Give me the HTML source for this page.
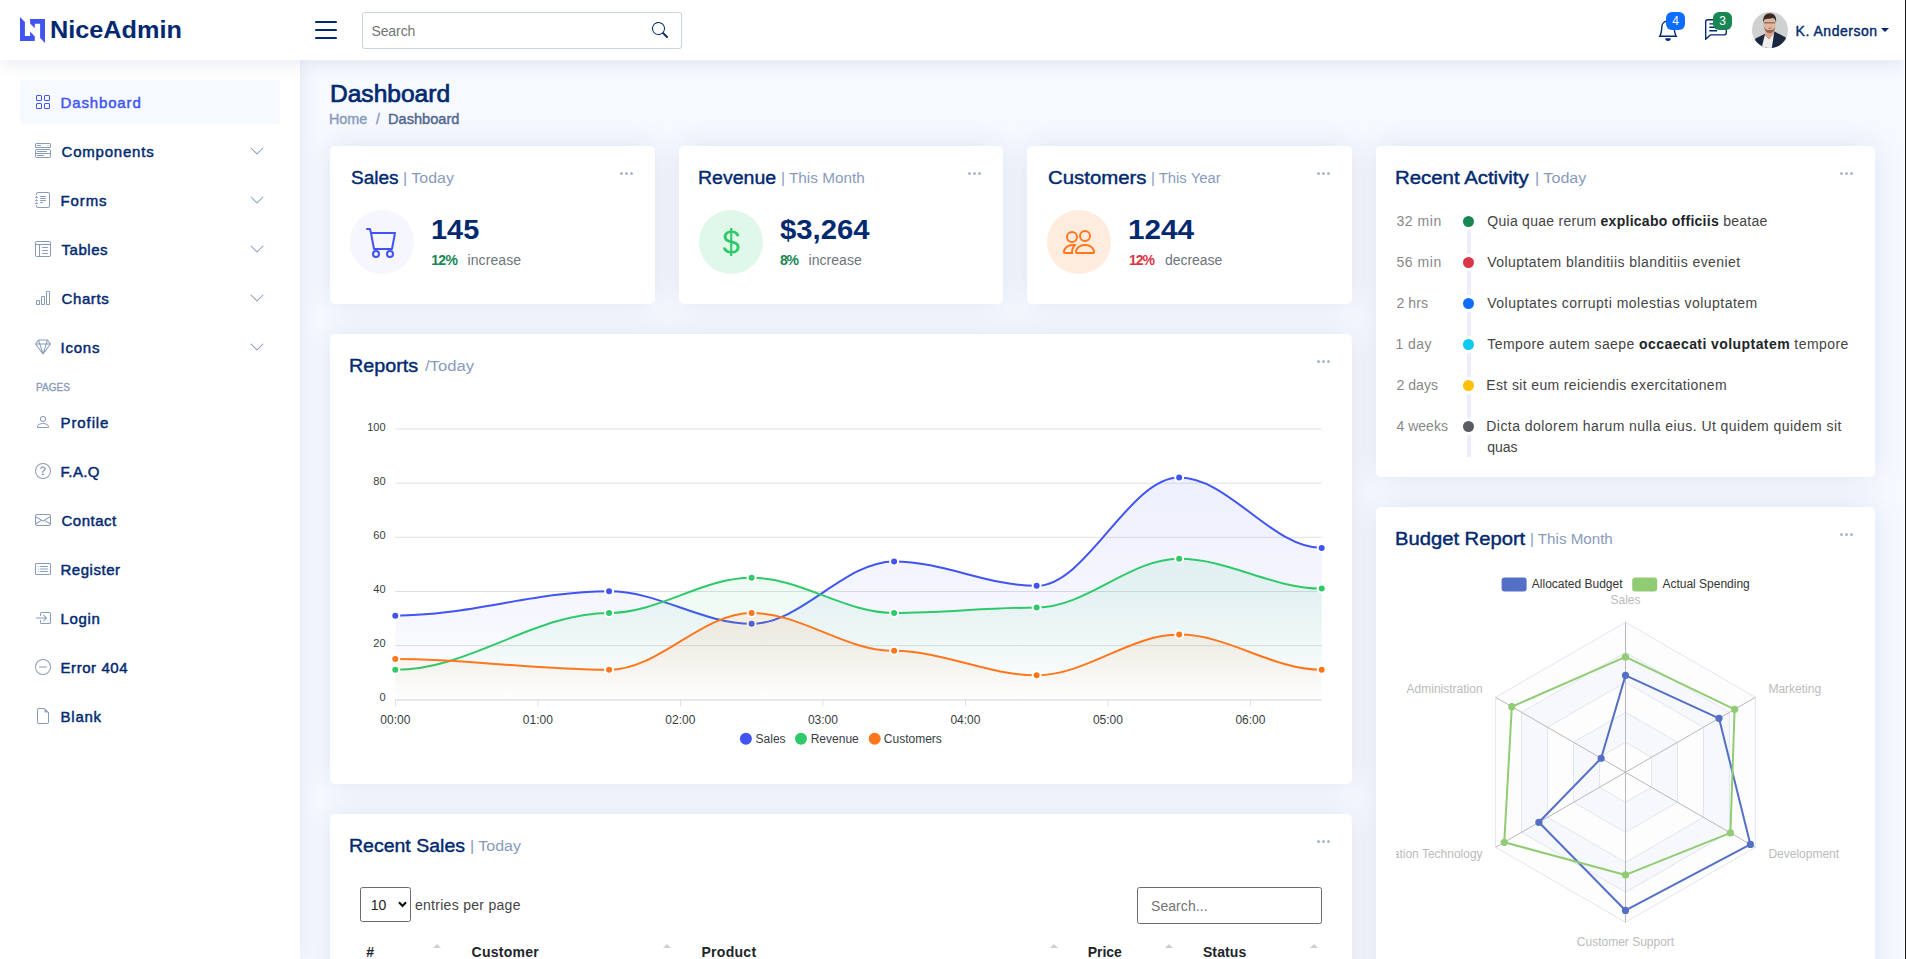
<!DOCTYPE html>
<html lang="en">
<head>
<meta charset="utf-8">
<title>Dashboard - NiceAdmin</title>
<style>
*{box-sizing:border-box}
html,body{margin:0;padding:0}
body{width:1906px;height:959px;overflow:hidden;position:relative;background:#f6f9ff;color:#444;font-family:"Liberation Sans",sans-serif;font-size:16px;line-height:1.5}
a{color:inherit;text-decoration:none}
ul,ol{list-style:none;margin:0;padding:0}
h1,h5,h6,p{margin:0}
.edge{position:absolute;left:1904px;top:0;width:2px;height:959px;background:linear-gradient(90deg,#fdfdfd 0,#fdfdfd 45%,#1b1b1b 45%,#1b1b1b 100%);z-index:2000}
.t{position:absolute;white-space:nowrap;display:block}

/* ---------- header ---------- */
.header{position:absolute;left:0;top:0;width:1905px;height:60px;background:#fff;box-shadow:0 2px 20px rgba(1,41,112,.1);z-index:997}
.logo-mark{position:absolute;left:0;top:0}
.logo-text{left:51px;top:13.9px;font-size:24.600px;line-height:31px;font-weight:700;color:#012970}
.burger{position:absolute;left:315px;top:20px;width:22px;height:20px}
.burger i{position:absolute;left:0;width:22px;height:2px;background:#012970;border-radius:1px}
.search{position:absolute;left:362px;top:12px;width:320px;height:37px;border:1px solid rgba(1,41,112,.2);border-radius:3px;background:#fff}
.search .t{left:8px;top:8px;font-size:14px;line-height:21px;color:#757575}
.search svg{position:absolute}
.nav-ico{position:absolute;color:#012970}
.badge{position:absolute;top:12px;height:18px;width:19px;border-radius:6px;color:#fff;font-size:12px;line-height:18px;text-align:center}
.avatar{position:absolute;left:1752px;top:12px;width:36px;height:36px;border-radius:50%;overflow:hidden}
.uname{left:1796px;top:21px;font-size:14px;line-height:21px;font-weight:400;color:#012970;-webkit-text-stroke:.4px currentColor}
.caret{position:absolute;left:1881px;top:28px;width:0;height:0;border-left:4px solid transparent;border-right:4px solid transparent;border-top:4.5px solid #012970}

/* ---------- sidebar ---------- */
.sidebar{position:absolute;left:0;top:60px;width:300px;height:899px;background:#fff;box-shadow:0 0 20px rgba(1,41,112,.1);z-index:996}
.nav-link{position:absolute;left:20px;width:260px;height:44px;border-radius:4px;font-size:15px;font-weight:400;color:#012970;-webkit-text-stroke:.45px currentColor}
.nav-link.active{background:#f6f9ff;color:#4154f1}
.nav-link svg.ic{position:absolute;left:15px;top:14px;color:#899bbd}
.nav-link.active svg.ic{color:#4154f1}
.nav-link svg.chev{position:absolute;left:229px;top:14px;color:#899bbd}
.nav-link .t{left:41px;top:11.7px;line-height:22px}
.nav-heading{left:35px;top:318.6px;font-size:11px;line-height:16px;text-transform:uppercase;color:#899bbd;font-weight:400;-webkit-text-stroke:.35px currentColor}

/* ---------- main ---------- */
.pagetitle h1{left:330px;top:79.8px;font-size:23.300px;line-height:29px;font-weight:400;color:#012970;-webkit-text-stroke:.7px currentColor}
.crumb{top:109px;font-size:14px;line-height:21px;font-weight:400;color:#899bbd;-webkit-text-stroke:.4px currentColor}
.card{position:absolute;background:#fff;border-radius:5px;box-shadow:0 0 30px rgba(1,41,112,.1)}
.ct{top:20.7px;font-size:18px;line-height:22px;font-weight:400;color:#012970;-webkit-text-stroke:.4px #012970}
.cs{top:22px;color:#899bbd;font-size:14px;line-height:21px;font-weight:400}
.dots{position:absolute;right:21.3px;top:25.7px;width:14px;height:4px}
.dots i{position:absolute;top:0;width:3.4px;height:3.4px;border-radius:50%;background:#aab7cf}
.card-icon{position:absolute;left:20px;top:64px;width:64px;height:64px;border-radius:50%}
.card-icon svg{position:absolute;left:16px;top:16px}
.info .num{left:101px;top:67px;font-size:27px;line-height:34px;font-weight:700;color:#012970}
.info .pct{left:101px;top:104.200px;font-size:14px;line-height:21px;font-weight:700}
.info .lbl{top:104.200px;font-size:14px;line-height:21px;color:#6c757d}

/* activity */
.act{font-size:14px;line-height:21px}
.act .lab{left:20px;color:#888}
.act .txt{left:111px;color:#444}
.act .txt b{font-weight:700;color:#212529}
.act .dot{position:absolute;left:86.8px;width:11.6px;height:11.6px;border-radius:50%;z-index:1;box-shadow:0 0 0 3px #fff}
.act .vline{position:absolute;left:91px;width:4px;background:#eceefe}

/* datatable */
.dsel{position:absolute;left:30px;top:73px;width:51px;height:35px;border:1px solid #6b6b6b;border-radius:2.500px;background:#fff}
.dsel .t{left:11px;top:7px;font-size:14px;line-height:21px;color:#222}
.dsel svg{position:absolute;left:37px;top:13px}
.dinp{position:absolute;left:807px;top:73px;width:185px;height:37px;border:1px solid #6b6b6b;border-radius:2.500px;background:#fff}
.dinp .t{left:13px;top:8px;font-size:14px;line-height:21px;color:#757575}
.dlbl{left:85px;top:80.900px;font-size:14px;line-height:21px;color:#444}
.th{top:128px;font-size:14px;line-height:21px;font-weight:700;color:#212529}
.sort{position:absolute;top:130px;width:0;height:0;border-left:4px solid transparent;border-right:4px solid transparent;border-bottom:4px solid #cfcfcf}
</style>
</head>
<body>
<div class="edge"></div>

<header class="header">
<svg class="logo-mark" width="60" height="60" viewBox="0 0 60 60"><path fill="#4154f1" d="M20 17.1 24.9 21.9V36H30.1V31.500L34.800 36.400V40.900H20Z"/><path fill="#4154f1" d="M30.100 18.900H45V43L40.100 37.900V23.800H34.800V28.300L30.100 23.400Z"/></svg>
<span id="logo" class="t logo-text" style="transform:scaleX(1.0266);transform-origin:0 0;left:50.47px">NiceAdmin</span>
<div class="burger"><i style="top:.6px"></i><i style="top:9px"></i><i style="top:17.2px"></i></div>
<div class="search"><span id="srch" class="t " style="letter-spacing:-0.074px;left:8.40px">Search</span><svg style="left:289px;top:9px" width="16" height="16" viewBox="0 0 16 16" fill="#012970"><path d="M11.742 10.344a6.5 6.5 0 1 0-1.397 1.398h-.001c.03.04.062.078.098.115l3.85 3.85a1 1 0 0 0 1.415-1.414l-3.85-3.85a1.007 1.007 0 0 0-.115-.1zM12 6.500a5.500 5.500 0 1 1-11 0 5.500 5.500 0 0 1 11 0z"/></svg></div>
<svg class="nav-ico" style="left:1657px;top:19px" width="22" height="22" viewBox="0 0 16 16" fill="currentColor"><path d="M8 16a2 2 0 0 0 2-2H6a2 2 0 0 0 2 2zM8 1.918l-.797.161A4.002 4.002 0 0 0 4 6c0 .628-.134 2.197-.459 3.742-.16.767-.376 1.566-.663 2.258h10.244c-.287-.692-.502-1.49-.663-2.258C12.134 8.197 12 6.628 12 6a4.002 4.002 0 0 0-3.203-3.92L8 1.917zM14.22 12c.223.447.481.801.78 1H1c.299-.199.557-.553.78-1C2.68 10.2 3 6.88 3 6c0-2.42 1.72-4.44 4.005-4.901a1 1 0 1 1 1.99 0A5.002 5.002 0 0 1 13 6c0 .88.32 4.2 1.22 6z"/></svg>
<span class="badge" style="left:1666px;background:#0d6efd">4</span>
<svg class="nav-ico" style="left:1704.600px;top:19px" width="22" height="22" viewBox="0 0 16 16" fill="currentColor"><path d="M14 1a1 1 0 0 1 1 1v8a1 1 0 0 1-1 1H4.414A2 2 0 0 0 3 11.586l-2 2V2a1 1 0 0 1 1-1h12zM2 0a2 2 0 0 0-2 2v12.793a.5.5 0 0 0 .854.353l2.853-2.853A1 1 0 0 1 4.414 12H14a2 2 0 0 0 2-2V2a2 2 0 0 0-2-2H2z"/><path d="M3 3.5a.5.5 0 0 1 .5-.5h9a.5.5 0 0 1 0 1h-9a.5.5 0 0 1-.5-.5zM3 6a.5.5 0 0 1 .5-.5h9a.5.5 0 0 1 0 1h-9A.5.5 0 0 1 3 6zm0 2.500a.5.5 0 0 1 .5-.5h5a.5.5 0 0 1 0 1h-5a.5.5 0 0 1-.5-.5z"/></svg>
<span class="badge" style="left:1713px;background:#198754">3</span>
<svg class="avatar" width="36" height="36" viewBox="0 0 36 36"><rect width="36" height="36" fill="#cfd0d0"/><path d="M3.500 26.500 12.500 22 15 24 22 19.200 33.800 25.500 36 36H0Z" fill="#1c2740"/><path d="M12.800 23 17 27 22.200 20.500 19.800 36H9.600Z" fill="#efefef"/><path d="M14 17H22L22.200 21 17 27.500 13 23.500Z" fill="#d9a68b"/><ellipse cx="17.600" cy="12.800" rx="6" ry="8" fill="#e0b59b"/><path d="M11.200 11C10.500 4 14 1.200 18 1.300 22.500 1.400 25 5 24 11 23.500 8 22.500 6.500 21 6 18 7 14 6.500 12.800 7.500 12 8.500 11.500 9.500 11.200 11Z" fill="#3b2a22"/><path d="M12 14.500C12.500 19 15 21 17.600 21 20.500 21 23 19 23.300 14.500 22.500 17.500 20.500 18 17.600 18 15 18 13 17.500 12 14.500Z" fill="#7a5543" opacity=".8"/><rect x="12" y="10" width="11" height="1.500" rx=".6" fill="#4a4a4c" opacity=".6"/><ellipse cx="17.900" cy="16.300" rx="1.600" ry=".7" fill="#e0605a"/></svg>

<span id="uname" class="t uname" style="letter-spacing:0.514px;left:1795.60px">K. Anderson</span>
<i class="caret"></i>
</header>
<aside class="sidebar">
<a class="nav-link active" style="top:20px"><svg class="ic" width="16" height="16" viewBox="0 0 16 16" fill="currentColor"><path d="M1 2.5A1.5 1.5 0 0 1 2.5 1h3A1.5 1.5 0 0 1 7 2.5v3A1.5 1.5 0 0 1 5.5 7h-3A1.5 1.5 0 0 1 1 5.5v-3zM2.5 2a.5.5 0 0 0-.5.5v3a.5.5 0 0 0 .5.5h3a.5.5 0 0 0 .5-.5v-3a.5.5 0 0 0-.5-.5h-3zm6.5.5A1.5 1.5 0 0 1 10.5 1h3A1.5 1.5 0 0 1 15 2.5v3A1.5 1.5 0 0 1 13.5 7h-3A1.5 1.5 0 0 1 9 5.5v-3zm1.5-.5a.5.5 0 0 0-.5.5v3a.5.5 0 0 0 .5.5h3a.5.5 0 0 0 .5-.5v-3a.5.5 0 0 0-.5-.5h-3zM1 10.5A1.5 1.5 0 0 1 2.5 9h3A1.5 1.5 0 0 1 7 10.5v3A1.5 1.5 0 0 1 5.5 15h-3A1.5 1.5 0 0 1 1 13.5v-3zm1.5-.5a.5.5 0 0 0-.5.5v3a.5.5 0 0 0 .5.5h3a.5.5 0 0 0 .5-.5v-3a.5.5 0 0 0-.5-.5h-3zm6.5.5A1.5 1.5 0 0 1 10.5 9h3a1.5 1.5 0 0 1 1.5 1.5v3a1.5 1.5 0 0 1-1.5 1.5h-3A1.5 1.5 0 0 1 9 13.5v-3zm1.5-.5a.5.5 0 0 0-.5.5v3a.5.5 0 0 0 .5.5h3a.5.5 0 0 0 .5-.5v-3a.5.5 0 0 0-.5-.5h-3z"/></svg><span id="sb0" class="t " style="letter-spacing:0.858px;left:40.50px">Dashboard</span></a>
<a class="nav-link" style="top:69px"><svg class="ic" width="16" height="16" viewBox="0 0 16 16" fill="currentColor"><path d="M0 1.5A1.5 1.5 0 0 1 1.5 0h13A1.5 1.5 0 0 1 16 1.5v2A1.5 1.5 0 0 1 14.5 5h-13A1.5 1.5 0 0 1 0 3.5v-2zM1.5 1a.5.5 0 0 0-.5.5v2a.5.5 0 0 0 .5.5h13a.5.5 0 0 0 .5-.5v-2a.5.5 0 0 0-.5-.5h-13z"/><path d="M2 2.5a.5.5 0 0 1 .5-.5h3a.5.5 0 0 1 0 1h-3a.5.5 0 0 1-.5-.5zm10.823.323-.396-.396A.25.25 0 0 1 12.604 2h.792a.25.25 0 0 1 .177.427l-.396.396a.25.25 0 0 1-.354 0zM0 8a2 2 0 0 1 2-2h12a2 2 0 0 1 2 2v5a2 2 0 0 1-2 2H2a2 2 0 0 1-2-2V8zm1 3v2a1 1 0 0 0 1 1h12a1 1 0 0 0 1-1v-2H1zm14-1V8a1 1 0 0 0-1-1H2a1 1 0 0 0-1 1v2h14zM2 8.5a.5.5 0 0 1 .5-.5h9a.5.5 0 0 1 0 1h-9a.5.5 0 0 1-.5-.5zm0 4a.5.5 0 0 1 .5-.5h6a.5.5 0 0 1 0 1h-6a.5.5 0 0 1-.5-.5z"/></svg><span id="sb1" class="t " style="letter-spacing:0.795px;left:41.50px">Components</span><svg class="chev" width="16" height="16" viewBox="0 0 16 16" fill="currentColor"><path fill-rule="evenodd" d="M1.646 4.646a.5.5 0 0 1 .708 0L8 10.293l5.646-5.647a.5.5 0 0 1 .708.708l-6 6a.5.5 0 0 1-.708 0l-6-6a.5.5 0 0 1 0-.708z"/></svg></a>
<a class="nav-link" style="top:118px"><svg class="ic" width="16" height="16" viewBox="0 0 16 16" fill="currentColor"><path d="M5 10.5a.5.5 0 0 1 .5-.5h2a.5.5 0 0 1 0 1h-2a.5.5 0 0 1-.5-.5zm0-2a.5.5 0 0 1 .5-.5h5a.5.5 0 0 1 0 1h-5a.5.5 0 0 1-.5-.5zm0-2a.5.5 0 0 1 .5-.5h5a.5.5 0 0 1 0 1h-5a.5.5 0 0 1-.5-.5zm0-2a.5.5 0 0 1 .5-.5h5a.5.5 0 0 1 0 1h-5a.5.5 0 0 1-.5-.5z"/><path d="M3 0h10a2 2 0 0 1 2 2v12a2 2 0 0 1-2 2H3a2 2 0 0 1-2-2v-1h1v1a1 1 0 0 0 1 1h10a1 1 0 0 0 1-1V2a1 1 0 0 0-1-1H3a1 1 0 0 0-1 1v1H1V2a2 2 0 0 1 2-2z"/><path d="M1 5v-.5a.5.5 0 0 1 1 0V5h.5a.5.5 0 0 1 0 1h-2a.5.5 0 0 1 0-1H1zm0 3v-.5a.5.5 0 0 1 1 0V8h.5a.5.5 0 0 1 0 1h-2a.5.5 0 0 1 0-1H1zm0 3v-.5a.5.5 0 0 1 1 0v.5h.5a.5.5 0 0 1 0 1h-2a.5.5 0 0 1 0-1H1z"/></svg><span id="sb2" class="t " style="letter-spacing:0.876px;left:40.50px">Forms</span><svg class="chev" width="16" height="16" viewBox="0 0 16 16" fill="currentColor"><path fill-rule="evenodd" d="M1.646 4.646a.5.5 0 0 1 .708 0L8 10.293l5.646-5.647a.5.5 0 0 1 .708.708l-6 6a.5.5 0 0 1-.708 0l-6-6a.5.5 0 0 1 0-.708z"/></svg></a>
<a class="nav-link" style="top:167px"><svg class="ic" width="16" height="16" viewBox="0 0 16 16" fill="currentColor"><path d="M13 6.5a.5.5 0 0 0-.5-.5h-5a.5.5 0 0 0 0 1h5a.5.5 0 0 0 .5-.5zm0 3a.5.5 0 0 0-.5-.5h-5a.5.5 0 0 0 0 1h5a.5.5 0 0 0 .5-.5zm-.5 2.500a.5.5 0 0 1 0 1h-5a.5.5 0 0 1 0-1h5z"/><path d="M14 0a2 2 0 0 1 2 2v12a2 2 0 0 1-2 2H2a2 2 0 0 1-2-2V2a2 2 0 0 1 2-2h12zM2 1a1 1 0 0 0-1 1v1h14V2a1 1 0 0 0-1-1H2zM1 4v10a1 1 0 0 0 1 1h2V4H1zm4 0v11h9a1 1 0 0 0 1-1V4H5z"/></svg><span id="sb3" class="t " style="letter-spacing:0.548px;left:41.50px">Tables</span><svg class="chev" width="16" height="16" viewBox="0 0 16 16" fill="currentColor"><path fill-rule="evenodd" d="M1.646 4.646a.5.5 0 0 1 .708 0L8 10.293l5.646-5.647a.5.5 0 0 1 .708.708l-6 6a.5.5 0 0 1-.708 0l-6-6a.5.5 0 0 1 0-.708z"/></svg></a>
<a class="nav-link" style="top:216px"><svg class="ic" width="16" height="16" viewBox="0 0 16 16" fill="currentColor"><path d="M4 11H2v3h2v-3zm5-4H7v7h2V7zm5-5v12h-2V2h2zm-2-1a1 1 0 0 0-1 1v12a1 1 0 0 0 1 1h2a1 1 0 0 0 1-1V2a1 1 0 0 0-1-1h-2zM6 7a1 1 0 0 1 1-1h2a1 1 0 0 1 1 1v7a1 1 0 0 1-1 1H7a1 1 0 0 1-1-1V7zm-5 4a1 1 0 0 1 1-1h2a1 1 0 0 1 1 1v3a1 1 0 0 1-1 1H2a1 1 0 0 1-1-1v-3z"/></svg><span id="sb4" class="t " style="letter-spacing:0.604px;left:41.50px">Charts</span><svg class="chev" width="16" height="16" viewBox="0 0 16 16" fill="currentColor"><path fill-rule="evenodd" d="M1.646 4.646a.5.5 0 0 1 .708 0L8 10.293l5.646-5.647a.5.5 0 0 1 .708.708l-6 6a.5.5 0 0 1-.708 0l-6-6a.5.5 0 0 1 0-.708z"/></svg></a>
<a class="nav-link" style="top:265px"><svg class="ic" width="16" height="16" viewBox="0 0 16 16" fill="currentColor"><path d="M3.1.7a.5.5 0 0 1 .4-.2h9a.5.5 0 0 1 .4.2l2.976 3.974c.149.185.156.45.01.644L8.4 15.3a.5.5 0 0 1-.8 0L.1 5.3a.5.5 0 0 1 0-.6l3-4zm11.386 3.785-1.806-2.41-.776 2.413 2.582-.003zm-3.633.004.961-2.989H4.186l.963 2.995 5.704-.006zM5.47 5.495 8 13.366l2.532-7.876-5.062.005zm-1.371-.999-.78-2.422-1.818 2.425 2.598-.003zM1.499 5.5l5.113 6.817-2.192-6.82L1.5 5.5zm7.889 6.817 5.123-6.83-2.928.002-2.195 6.828z"/></svg><span id="sb5" class="t " style="letter-spacing:0.762px;left:40.50px">Icons</span><svg class="chev" width="16" height="16" viewBox="0 0 16 16" fill="currentColor"><path fill-rule="evenodd" d="M1.646 4.646a.5.5 0 0 1 .708 0L8 10.293l5.646-5.647a.5.5 0 0 1 .708.708l-6 6a.5.5 0 0 1-.708 0l-6-6a.5.5 0 0 1 0-.708z"/></svg></a>
<span id="pages" class="t nav-heading" style="transform:scaleX(0.9143);transform-origin:0 0;left:35.50px">Pages</span>
<a class="nav-link" style="top:340px"><svg class="ic" width="16" height="16" viewBox="0 0 16 16" fill="currentColor"><path d="M8 8a3 3 0 1 0 0-6 3 3 0 0 0 0 6zm2-3a2 2 0 1 1-4 0 2 2 0 0 1 4 0zm4 8c0 1-1 1-1 1H3s-1 0-1-1 1-4 6-4 6 3 6 4zm-1-.004c-.001-.246-.154-.986-.832-1.664C11.516 10.68 10.289 10 8 10c-2.29 0-3.516.68-4.168 1.332-.678.678-.83 1.418-.832 1.664h10z"/></svg><span id="pg0" class="t " style="letter-spacing:0.904px;left:40.50px">Profile</span></a>
<a class="nav-link" style="top:389px"><svg class="ic" width="16" height="16" viewBox="0 0 16 16" fill="currentColor"><path d="M8 15A7 7 0 1 1 8 1a7 7 0 0 1 0 14zm0 1A8 8 0 1 0 8 0a8 8 0 0 0 0 16z"/><path d="M5.255 5.786a.237.237 0 0 0 .241.247h.825c.138 0 .248-.113.266-.25.09-.656.54-1.134 1.342-1.134.686 0 1.314.343 1.314 1.168 0 .635-.374.927-.965 1.371-.673.489-1.206 1.06-1.168 1.987l.003.217a.25.25 0 0 0 .25.246h.811a.25.25 0 0 0 .25-.25v-.105c0-.718.273-.927 1.01-1.486.609-.463 1.244-.977 1.244-2.056 0-1.511-1.276-2.241-2.673-2.241-1.267 0-2.655.59-2.75 2.286zm1.557 5.763c0 .533.425.927 1.01.927.609 0 1.028-.394 1.028-.927 0-.552-.42-.94-1.029-.94-.584 0-1.009.388-1.009.94z"/></svg><span id="pg1" class="t " style="letter-spacing:0.365px;left:40.50px">F.A.Q</span></a>
<a class="nav-link" style="top:438px"><svg class="ic" width="16" height="16" viewBox="0 0 16 16" fill="currentColor"><path d="M0 4a2 2 0 0 1 2-2h12a2 2 0 0 1 2 2v8a2 2 0 0 1-2 2H2a2 2 0 0 1-2-2V4Zm2-1a1 1 0 0 0-1 1v.217l7 4.2 7-4.2V4a1 1 0 0 0-1-1H2Zm13 2.383-4.708 2.825L15 11.105V5.383Zm-.034 6.876-5.64-3.471L8 9.583l-1.326-.795-5.64 3.47A1 1 0 0 0 2 13h12a1 1 0 0 0 .966-.741ZM1 11.105l4.708-2.897L1 5.383v5.722Z"/></svg><span id="pg2" class="t " style="letter-spacing:0.496px;left:41.50px">Contact</span></a>
<a class="nav-link" style="top:487px"><svg class="ic" width="16" height="16" viewBox="0 0 16 16" fill="currentColor"><path d="M14.5 3a.5.5 0 0 1 .5.5v9a.5.5 0 0 1-.5.5h-13a.5.5 0 0 1-.5-.5v-9a.5.5 0 0 1 .5-.5h13zm-13-1A1.5 1.5 0 0 0 0 3.5v9A1.5 1.5 0 0 0 1.5 14h13a1.5 1.5 0 0 0 1.5-1.5v-9A1.5 1.5 0 0 0 14.5 2h-13z"/><path d="M5 8a.5.5 0 0 1 .5-.5h7a.5.5 0 0 1 0 1h-7A.5.5 0 0 1 5 8zm0-2.5a.5.5 0 0 1 .5-.5h7a.5.5 0 0 1 0 1h-7a.5.5 0 0 1-.5-.5zm0 5a.5.5 0 0 1 .5-.5h7a.5.5 0 0 1 0 1h-7a.5.5 0 0 1-.5-.5zm-1-5a.5.5 0 1 1-1 0 .5.5 0 0 1 1 0zM4 8a.5.5 0 1 1-1 0 .5.5 0 0 1 1 0zm0 2.5a.5.5 0 1 1-1 0 .5.5 0 0 1 1 0z"/></svg><span id="pg3" class="t " style="letter-spacing:0.520px;left:40.50px">Register</span></a>
<a class="nav-link" style="top:536px"><svg class="ic" width="16" height="16" viewBox="0 0 16 16" fill="currentColor"><path fill-rule="evenodd" d="M6 3.5a.5.5 0 0 1 .5-.5h8a.5.5 0 0 1 .5.5v9a.5.5 0 0 1-.5.5h-8a.5.5 0 0 1-.5-.5v-2a.5.5 0 0 0-1 0v2A1.5 1.5 0 0 0 6.5 14h8a1.5 1.5 0 0 0 1.500-1.5v-9A1.5 1.5 0 0 0 14.5 2h-8A1.5 1.5 0 0 0 5 3.5v2a.5.5 0 0 0 1 0v-2z"/><path fill-rule="evenodd" d="M11.854 8.354a.5.5 0 0 0 0-.708l-3-3a.5.5 0 1 0-.708.708L10.293 7.500H1.5a.5.5 0 0 0 0 1h8.793l-2.147 2.146a.5.5 0 0 0 .708.708l3-3z"/></svg><span id="pg4" class="t " style="letter-spacing:0.685px;left:40.50px">Login</span></a>
<a class="nav-link" style="top:585px"><svg class="ic" width="16" height="16" viewBox="0 0 16 16" fill="currentColor"><path d="M8 15A7 7 0 1 1 8 1a7 7 0 0 1 0 14zm0 1A8 8 0 1 0 8 0a8 8 0 0 0 0 16z"/><path d="M4 8a.5.5 0 0 1 .5-.5h7a.5.5 0 0 1 0 1h-7A.5.5 0 0 1 4 8z"/></svg><span id="pg5" class="t " style="letter-spacing:0.564px;left:40.50px">Error 404</span></a>
<a class="nav-link" style="top:634px"><svg class="ic" width="16" height="16" viewBox="0 0 16 16" fill="currentColor"><path d="M14 4.5V14a2 2 0 0 1-2 2H4a2 2 0 0 1-2-2V2a2 2 0 0 1 2-2h5.5L14 4.5zm-3 0A1.5 1.5 0 0 1 9.5 3V1H4a1 1 0 0 0-1 1v12a1 1 0 0 0 1 1h8a1 1 0 0 0 1-1V4.500h-2z"/></svg><span id="pg6" class="t " style="letter-spacing:0.770px;left:40.50px">Blank</span></a>
</aside>
<main>
<div class="pagetitle"><h1 id="ptitle" class="t" style="transform:scaleX(1.0534);transform-origin:0 0;left:330.45px">Dashboard</h1>
<span id="cr1" class="t crumb" style="left:330px;transform:scaleX(1.0258);transform-origin:0 0;left:329.47px">Home</span>
<span id="cr2" class="t crumb" style="left:376px;left:376.00px">/</span>
<span id="cr3" class="t crumb" style="left:389px;color:#51678f;transform:scaleX(1.0419);transform-origin:0 0;left:387.96px">Dashboard</span>
</div>
<section class="card info" style="left:330px;top:146px;width:325px;height:158px">
<span id="c0t" class="t ct" style="left:20px;transform:scaleX(1.0572);transform-origin:0 0;left:20.60px">Sales</span><span id="c0s" class="t cs" style="left:74.0px;transform:scaleX(1.1416);transform-origin:0 0;left:72.86px">| Today</span><div class="dots"><i style="left:0"></i><i style="left:5.2px"></i><i style="left:10.4px"></i></div>
<div class="card-icon" style="background:#f6f6fe"><svg width="32" height="32" viewBox="0 0 16 16" fill="#4154f1"><path d="M0 1.5A.5.5 0 0 1 .5 1H2a.5.5 0 0 1 .485.379L2.89 3H14.5a.5.5 0 0 1 .491.592l-1.5 8A.5.5 0 0 1 13 12H4a.5.5 0 0 1-.491-.408L2.01 3.607 1.61 2H.5a.5.5 0 0 1-.5-.5zM3.102 4l1.313 7h8.17l1.313-7H3.102zM5 12a2 2 0 1 0 0 4 2 2 0 0 0 0-4zm7 0a2 2 0 1 0 0 4 2 2 0 0 0 0-4zm-7 1a1 1 0 1 1 0 2 1 1 0 0 1 0-2zm7 0a1 1 0 1 1 0 2 1 1 0 0 1 0-2z"/></svg></div>
<span id="c0n" class="t num" style="transform:scaleX(1.0697);transform-origin:0 0;left:101.23px">145</span><span id="c0p" class="t pct" style="color:#198754;letter-spacing:-0.686px;left:101.20px">12%</span><span id="c0l" class="t lbl" style="left:137.5px;letter-spacing:0.096px;left:137.50px">increase</span>
</section>
<section class="card info" style="left:679px;top:146px;width:324px;height:158px">
<span id="c1t" class="t ct" style="left:20px;transform:scaleX(1.0839);transform-origin:0 0;left:19.42px">Revenue</span><span id="c1s" class="t cs" style="left:103.5px;transform:scaleX(1.0935);transform-origin:0 0;left:102.41px">| This Month</span><div class="dots"><i style="left:0"></i><i style="left:5.2px"></i><i style="left:10.4px"></i></div>
<div class="card-icon" style="background:#e0f8e9"><svg width="32" height="32" viewBox="0 0 16 16" fill="#2eca6a"><path d="M4 10.781c.148 1.667 1.513 2.85 3.591 3.003V15h1.043v-1.216c2.27-.179 3.678-1.438 3.678-3.3 0-1.59-.947-2.51-2.956-3.028l-.722-.187V3.467c1.122.11 1.879.714 2.07 1.616h1.47c-.166-1.6-1.54-2.748-3.54-2.875V1H7.591v1.233c-1.939.23-3.27 1.472-3.27 3.156 0 1.454.966 2.483 2.661 2.917l.61.162v4.031c-1.149-.17-1.94-.8-2.131-1.718H4zm3.391-3.836c-1.043-.263-1.6-.825-1.6-1.616 0-.944.704-1.641 1.8-1.828v3.495l-.2-.05zm1.591 1.872c1.287.323 1.852.859 1.852 1.769 0 1.097-.826 1.828-2.2 1.939V8.73l.348.086z"/></svg></div>
<span id="c1n" class="t num" style="transform:scaleX(1.0840);transform-origin:0 0;left:101.00px">$3,264</span><span id="c1p" class="t pct" style="color:#198754;letter-spacing:-1.286px;left:101.00px">8%</span><span id="c1l" class="t lbl" style="left:129.5px;letter-spacing:0.053px;left:129.50px">increase</span>
</section>
<section class="card info" style="left:1027px;top:146px;width:325px;height:158px">
<span id="c2t" class="t ct" style="left:20px;transform:scaleX(1.1319);transform-origin:0 0;left:21.00px">Customers</span><span id="c2s" class="t cs" style="left:125.5px;transform:scaleX(1.0612);transform-origin:0 0;left:124.44px">| This Year</span><div class="dots"><i style="left:0"></i><i style="left:5.2px"></i><i style="left:10.4px"></i></div>
<div class="card-icon" style="background:#ffecdf"><svg width="32" height="32" viewBox="0 0 16 16" fill="#ff771d"><path d="M15 14s1 0 1-1-1-4-5-4-5 3-5 4 1 1 1 1h8zm-7.978-1A.261.261 0 0 1 7 12.996c.001-.264.167-1.03.76-1.72C8.312 10.629 9.282 10 11 10c1.717 0 2.687.63 3.24 1.276.593.69.758 1.457.76 1.72l-.8.002a.274.274 0 0 1-.14.002H7.022zM11 7a2 2 0 1 0 0-4 2 2 0 0 0 0 4zm3-2a3 3 0 1 1-6 0 3 3 0 0 1 6 0zM6.936 9.28a5.88 5.880 0 0 0-1.23-.247A7.350 7.350 0 0 0 5 9c-4 0-5 3-5 4 0 .667.333 1 1 1h4.216A2.238 2.238 0 0 1 5 13c0-1.01.377-2.042 1.090-2.904.243-.294.526-.569.846-.816zM4.920 10A5.493 5.493 0 0 0 4 13H1c0-.26.164-1.03.76-1.724.545-.636 1.492-1.256 3.160-1.275zM1.500 5.500a3 3 0 1 1 6 0 3 3 0 0 1-6 0zm3-2a2 2 0 1 0 0 4 2 2 0 0 0 0-4z"/></svg></div>
<span id="c2n" class="t num" style="transform:scaleX(1.1008);transform-origin:0 0;left:101.40px">1244</span><span id="c2p" class="t pct" style="color:#dc3545;letter-spacing:-1.036px;left:102.00px">12%</span><span id="c2l" class="t lbl" style="left:138.0px;letter-spacing:-0.044px;left:138.00px">decrease</span>
</section>
<section class="card" id="reports" style="left:330px;top:334px;width:1022px;height:450px">
<span id="rt" class="t ct" style="left:20px;transform:scaleX(1.0963);transform-origin:0 0;left:19.40px">Reports</span><span id="rs" class="t cs" style="left:95px;transform:scaleX(1.1879);transform-origin:0 0;left:95.00px">/Today</span><div class="dots"><i style="left:0"></i><i style="left:5.2px"></i><i style="left:10.4px"></i></div>
<svg class="chart" width="1022" height="450" viewBox="0 0 1022 450" style="position:absolute;left:0;top:0;font-family:'Liberation Sans',sans-serif">
<defs>
<linearGradient id="g0" gradientUnits="userSpaceOnUse" x1="0" y1="143.5" x2="0" y2="365.6"><stop offset="0" stop-color="#4154f1" stop-opacity="0.09"/><stop offset="0.55" stop-color="#4154f1" stop-opacity="0.054"/><stop offset="1" stop-color="#4154f1" stop-opacity="0.0"/></linearGradient>
<linearGradient id="g1" gradientUnits="userSpaceOnUse" x1="0" y1="224.8" x2="0" y2="365.6"><stop offset="0" stop-color="#2eca6a" stop-opacity="0.095"/><stop offset="0.55" stop-color="#2eca6a" stop-opacity="0.057"/><stop offset="1" stop-color="#2eca6a" stop-opacity="0.0"/></linearGradient>
<linearGradient id="g2" gradientUnits="userSpaceOnUse" x1="0" y1="278.9" x2="0" y2="365.6"><stop offset="0" stop-color="#ff771d" stop-opacity="0.1"/><stop offset="0.55" stop-color="#ff771d" stop-opacity="0.060"/><stop offset="1" stop-color="#ff771d" stop-opacity="0.0"/></linearGradient>
</defs>
<line x1="65.3" x2="991.7" y1="365.80" y2="365.80" stroke="#e0e0e0" stroke-width="1"/>
<text x="55.6" y="367.4" text-anchor="end" font-size="11" fill="#373d3f">0</text>
<line x1="65.3" x2="991.7" y1="311.64" y2="311.64" stroke="#e0e0e0" stroke-width="1"/>
<text x="55.6" y="313.2" text-anchor="end" font-size="11" fill="#373d3f">20</text>
<line x1="65.3" x2="991.7" y1="257.48" y2="257.48" stroke="#e0e0e0" stroke-width="1"/>
<text x="55.6" y="259.1" text-anchor="end" font-size="11" fill="#373d3f">40</text>
<line x1="65.3" x2="991.7" y1="203.32" y2="203.32" stroke="#e0e0e0" stroke-width="1"/>
<text x="55.6" y="204.9" text-anchor="end" font-size="11" fill="#373d3f">60</text>
<line x1="65.3" x2="991.7" y1="149.16" y2="149.16" stroke="#e0e0e0" stroke-width="1"/>
<text x="55.6" y="150.8" text-anchor="end" font-size="11" fill="#373d3f">80</text>
<line x1="65.3" x2="991.7" y1="95.00" y2="95.00" stroke="#e0e0e0" stroke-width="1"/>
<text x="55.6" y="96.6" text-anchor="end" font-size="11" fill="#373d3f">100</text>
<line x1="65.40" x2="65.40" y1="365.8" y2="372.2" stroke="#e0e0e0" stroke-width="1"/>
<text x="65.3" y="389.7" text-anchor="middle" font-size="12" fill="#373d3f">00:00</text>
<line x1="207.92" x2="207.92" y1="365.8" y2="372.2" stroke="#e0e0e0" stroke-width="1"/>
<text x="207.8" y="389.7" text-anchor="middle" font-size="12" fill="#373d3f">01:00</text>
<line x1="350.44" x2="350.44" y1="365.8" y2="372.2" stroke="#e0e0e0" stroke-width="1"/>
<text x="350.3" y="389.7" text-anchor="middle" font-size="12" fill="#373d3f">02:00</text>
<line x1="492.96" x2="492.96" y1="365.8" y2="372.2" stroke="#e0e0e0" stroke-width="1"/>
<text x="492.9" y="389.7" text-anchor="middle" font-size="12" fill="#373d3f">03:00</text>
<line x1="635.48" x2="635.48" y1="365.8" y2="372.2" stroke="#e0e0e0" stroke-width="1"/>
<text x="635.4" y="389.7" text-anchor="middle" font-size="12" fill="#373d3f">04:00</text>
<line x1="778.00" x2="778.00" y1="365.8" y2="372.2" stroke="#e0e0e0" stroke-width="1"/>
<text x="777.9" y="389.7" text-anchor="middle" font-size="12" fill="#373d3f">05:00</text>
<line x1="920.52" x2="920.52" y1="365.8" y2="372.2" stroke="#e0e0e0" stroke-width="1"/>
<text x="920.4" y="389.7" text-anchor="middle" font-size="12" fill="#373d3f">06:00</text>
<line x1="65.3" x2="991.7" y1="366.00" y2="366.00" stroke="#e0e0e0" stroke-width="1"/>
<path d="M65.30 281.65C140.12 281.65 204.26 257.28 279.08 257.28C328.96 257.28 371.72 289.78 421.60 289.78C471.48 289.78 514.24 227.49 564.12 227.49C614.00 227.49 656.76 251.86 706.64 251.86C756.52 251.86 799.28 143.54 849.16 143.54C899.04 143.54 941.80 213.95 991.68 213.95L991.68 365.60L65.30 365.60Z" fill="url(#g0)"/>
<path d="M65.30 281.65C140.12 281.65 204.26 257.28 279.08 257.28C328.96 257.28 371.72 289.78 421.60 289.78C471.48 289.78 514.24 227.49 564.12 227.49C614.00 227.49 656.76 251.86 706.64 251.86C756.52 251.86 799.28 143.54 849.16 143.54C899.04 143.54 941.80 213.95 991.68 213.95" fill="none" stroke="#4154f1" stroke-width="2" stroke-linecap="butt"/>
<circle cx="65.30" cy="281.65" r="4" fill="#4154f1" stroke="#fff" stroke-width="2"/>
<circle cx="279.08" cy="257.28" r="4" fill="#4154f1" stroke="#fff" stroke-width="2"/>
<circle cx="421.60" cy="289.78" r="4" fill="#4154f1" stroke="#fff" stroke-width="2"/>
<circle cx="564.12" cy="227.49" r="4" fill="#4154f1" stroke="#fff" stroke-width="2"/>
<circle cx="706.64" cy="251.86" r="4" fill="#4154f1" stroke="#fff" stroke-width="2"/>
<circle cx="849.16" cy="143.54" r="4" fill="#4154f1" stroke="#fff" stroke-width="2"/>
<circle cx="991.68" cy="213.95" r="4" fill="#4154f1" stroke="#fff" stroke-width="2"/>
<path d="M65.30 335.81C140.12 335.81 204.26 278.94 279.08 278.94C328.96 278.94 371.72 243.74 421.60 243.74C471.48 243.74 514.24 278.94 564.12 278.94C614.00 278.94 656.76 273.53 706.64 273.53C756.52 273.53 799.28 224.78 849.16 224.78C899.04 224.78 941.80 254.57 991.68 254.57L991.68 365.60L65.30 365.60Z" fill="url(#g1)"/>
<path d="M65.30 335.81C140.12 335.81 204.26 278.94 279.08 278.94C328.96 278.94 371.72 243.74 421.60 243.74C471.48 243.74 514.24 278.94 564.12 278.94C614.00 278.94 656.76 273.53 706.64 273.53C756.52 273.53 799.28 224.78 849.16 224.78C899.04 224.78 941.80 254.57 991.68 254.57" fill="none" stroke="#2eca6a" stroke-width="2" stroke-linecap="butt"/>
<circle cx="65.30" cy="335.81" r="4" fill="#2eca6a" stroke="#fff" stroke-width="2"/>
<circle cx="279.08" cy="278.94" r="4" fill="#2eca6a" stroke="#fff" stroke-width="2"/>
<circle cx="421.60" cy="243.74" r="4" fill="#2eca6a" stroke="#fff" stroke-width="2"/>
<circle cx="564.12" cy="278.94" r="4" fill="#2eca6a" stroke="#fff" stroke-width="2"/>
<circle cx="706.64" cy="273.53" r="4" fill="#2eca6a" stroke="#fff" stroke-width="2"/>
<circle cx="849.16" cy="224.78" r="4" fill="#2eca6a" stroke="#fff" stroke-width="2"/>
<circle cx="991.68" cy="254.57" r="4" fill="#2eca6a" stroke="#fff" stroke-width="2"/>
<path d="M65.30 324.98C140.12 324.98 204.26 335.81 279.08 335.81C328.96 335.81 371.72 278.94 421.60 278.94C471.48 278.94 514.24 316.86 564.12 316.86C614.00 316.86 656.76 341.23 706.64 341.23C756.52 341.23 799.28 300.61 849.16 300.61C899.04 300.61 941.80 335.81 991.68 335.81L991.68 365.60L65.30 365.60Z" fill="url(#g2)"/>
<path d="M65.30 324.98C140.12 324.98 204.26 335.81 279.08 335.81C328.96 335.81 371.72 278.94 421.60 278.94C471.48 278.94 514.24 316.86 564.12 316.86C614.00 316.86 656.76 341.23 706.64 341.23C756.52 341.23 799.28 300.61 849.16 300.61C899.04 300.61 941.80 335.81 991.68 335.81" fill="none" stroke="#ff771d" stroke-width="2" stroke-linecap="butt"/>
<circle cx="65.30" cy="324.98" r="4" fill="#ff771d" stroke="#fff" stroke-width="2"/>
<circle cx="279.08" cy="335.81" r="4" fill="#ff771d" stroke="#fff" stroke-width="2"/>
<circle cx="421.60" cy="278.94" r="4" fill="#ff771d" stroke="#fff" stroke-width="2"/>
<circle cx="564.12" cy="316.86" r="4" fill="#ff771d" stroke="#fff" stroke-width="2"/>
<circle cx="706.64" cy="341.23" r="4" fill="#ff771d" stroke="#fff" stroke-width="2"/>
<circle cx="849.16" cy="300.61" r="4" fill="#ff771d" stroke="#fff" stroke-width="2"/>
<circle cx="991.68" cy="335.81" r="4" fill="#ff771d" stroke="#fff" stroke-width="2"/>
<circle cx="415.9" cy="404.8" r="6" fill="#4154f1"/>
<text x="425.6" y="409.0" font-size="12" fill="#373d3f">Sales</text>
<circle cx="471.0" cy="404.8" r="6" fill="#2eca6a"/>
<text x="480.7" y="409.0" font-size="12" fill="#373d3f">Revenue</text>
<circle cx="544.7" cy="404.8" r="6" fill="#ff771d"/>
<text x="553.8" y="409.0" font-size="12" fill="#373d3f">Customers</text>
</svg>
</section>
<section class="card" id="sales" style="left:330px;top:814px;width:1022px;height:300px">
<span id="st" class="t ct" style="left:20px;transform:scaleX(1.0834);transform-origin:0 0;left:19.32px">Recent Sales</span><span id="ss" class="t cs" style="left:141.6px;transform:scaleX(1.1416);transform-origin:0 0;left:140.46px">| Today</span><div class="dots"><i style="left:0"></i><i style="left:5.2px"></i><i style="left:10.4px"></i></div>
<div class="dsel"><span id="dsel10" class="t " style="letter-spacing:-0.186px;left:9.80px">10</span><svg width="9" height="7" viewBox="0 0 9 7"><path d="M1 1.2 4.500 5 8 1.2" fill="none" stroke="#111" stroke-width="2.1"/></svg></div>
<span id="dlbl" class="t dlbl" style="letter-spacing:0.294px;left:84.90px">entries per page</span>
<div class="dinp"><span id="dinp" class="t " style="letter-spacing:0.070px;left:13.00px">Search...</span></div>
<span id="th0" class="t th" style="left:36.3px;left:36.30px">#</span>
<span id="th1" class="t th" style="left:141.6px;letter-spacing:0.258px;left:141.60px">Customer</span>
<span id="th2" class="t th" style="left:371.5px;letter-spacing:0.279px;left:371.50px">Product</span>
<span id="th3" class="t th" style="left:757.7px;letter-spacing:-0.040px;left:757.70px">Price</span>
<span id="th4" class="t th" style="left:872.9px;letter-spacing:0.120px;left:872.90px">Status</span>
<i class="sort" style="left:103px"></i>
<i class="sort" style="left:333px"></i>
<i class="sort" style="left:720px"></i>
<i class="sort" style="left:835px"></i>
<i class="sort" style="left:980px"></i>
</section>
<section class="card act" id="activity" style="left:1376px;top:146px;width:499px;height:330.500px">
<span id="at" class="t ct" style="left:20px;transform:scaleX(1.1327);transform-origin:0 0;left:19.37px">Recent Activity</span><span id="as" class="t cs" style="left:159.9px;transform:scaleX(1.1507);transform-origin:0 0;left:158.75px">| Today</span><div class="dots"><i style="left:0"></i><i style="left:5.2px"></i><i style="left:10.4px"></i></div>
<i class="vline" style="top:74px;height:237px"></i>
<span id="al0" class="t lab" style="top:64.5px;letter-spacing:0.553px;left:20.40px">32 min</span>
<i class="dot" style="top:69.7px;background:#198754"></i>
<span id="ax0" class="t txt" style="top:64.5px;letter-spacing:0.269px;left:111.30px">Quia quae rerum <b>explicabo officiis</b> beatae</span>
<span id="al1" class="t lab" style="top:105.5px;letter-spacing:0.553px;left:20.40px">56 min</span>
<i class="dot" style="top:110.7px;background:#dc3545"></i>
<span id="ax1" class="t txt" style="top:105.5px;letter-spacing:0.438px;left:111.30px">Voluptatem blanditiis blanditiis eveniet</span>
<span id="al2" class="t lab" style="top:146.5px;letter-spacing:0.119px;left:20.40px">2 hrs</span>
<i class="dot" style="top:151.7px;background:#0d6efd"></i>
<span id="ax2" class="t txt" style="top:146.5px;letter-spacing:0.477px;left:111.30px">Voluptates corrupti molestias voluptatem</span>
<span id="al3" class="t lab" style="top:187.5px;letter-spacing:0.463px;left:19.40px">1 day</span>
<i class="dot" style="top:192.7px;background:#0dcaf0"></i>
<span id="ax3" class="t txt" style="top:187.5px;letter-spacing:0.429px;left:111.30px">Tempore autem saepe <b>occaecati voluptatem</b> tempore</span>
<span id="al4" class="t lab" style="top:228.5px;letter-spacing:0.070px;left:20.40px">2 days</span>
<i class="dot" style="top:233.7px;background:#ffc107"></i>
<span id="ax4" class="t txt" style="top:228.5px;letter-spacing:0.366px;left:110.30px">Est sit eum reiciendis exercitationem</span>
<span id="al5" class="t lab" style="top:269.5px;letter-spacing:0.040px;left:20.40px">4 weeks</span>
<i class="dot" style="top:274.7px;background:#585c60"></i>
<span id="ax5" class="t txt" style="top:269.5px;letter-spacing:0.448px;left:110.30px">Dicta dolorem harum nulla eius. Ut quidem quidem sit</span>
<span id="ax6" class="t txt" style="top:290.5px;letter-spacing:-0.053px;left:111.30px">quas</span>
</section>
<section class="card" id="budget" style="left:1376px;top:507px;width:499px;height:486px">
<span id="bt" class="t ct" style="left:20px;transform:scaleX(1.1219);transform-origin:0 0;left:19.08px">Budget Report</span><span id="bs" class="t cs" style="left:155px;transform:scaleX(1.0815);transform-origin:0 0;left:154.42px">| This Month</span><div class="dots"><i style="left:0"></i><i style="left:5.2px"></i><i style="left:10.4px"></i></div>
<svg class="chart" width="499" height="460" viewBox="0 0 499 460" style="position:absolute;left:0;top:0;font-family:'Liberation Sans',sans-serif">
<defs><clipPath id="rc"><rect x="20" y="0" width="459" height="460"/></clipPath></defs><g clip-path="url(#rc)">
<path d="M249.50,115.30 L119.60,190.30 L119.60,340.30 L249.50,415.30 L379.40,340.30 L379.40,190.30Z M353.42,205.30 L353.42,325.30 L249.50,385.30 L145.58,325.30 L145.58,205.30 L249.50,145.30Z" fill="rgba(250,250,250,0.3)" fill-rule="evenodd"/>
<path d="M249.50,145.30 L145.58,205.30 L145.58,325.30 L249.50,385.30 L353.42,325.30 L353.42,205.30Z M327.44,220.30 L327.44,310.30 L249.50,355.30 L171.56,310.30 L171.56,220.30 L249.50,175.30Z" fill="rgba(210,219,238,0.2)" fill-rule="evenodd"/>
<path d="M249.50,175.30 L171.56,220.30 L171.56,310.30 L249.50,355.30 L327.44,310.30 L327.44,220.30Z M301.46,235.30 L301.46,295.30 L249.50,325.30 L197.54,295.30 L197.54,235.30 L249.50,205.30Z" fill="rgba(250,250,250,0.3)" fill-rule="evenodd"/>
<path d="M249.50,205.30 L197.54,235.30 L197.54,295.30 L249.50,325.30 L301.46,295.30 L301.46,235.30Z M275.48,250.30 L275.48,280.30 L249.50,295.30 L223.52,280.30 L223.52,250.30 L249.50,235.30Z" fill="rgba(210,219,238,0.2)" fill-rule="evenodd"/>
<path d="M249.50,235.30 L223.52,250.30 L223.52,280.30 L249.50,295.30 L275.48,280.30 L275.48,250.30Z" fill="rgba(250,250,250,0.3)" fill-rule="evenodd"/>
<polygon points="249.50,235.30 223.52,250.30 223.52,280.30 249.50,295.30 275.48,280.30 275.48,250.30" fill="none" stroke="#e0e6f1" stroke-width="1"/>
<polygon points="249.50,205.30 197.54,235.30 197.54,295.30 249.50,325.30 301.46,295.30 301.46,235.30" fill="none" stroke="#e0e6f1" stroke-width="1"/>
<polygon points="249.50,175.30 171.56,220.30 171.56,310.30 249.50,355.30 327.44,310.30 327.44,220.30" fill="none" stroke="#e0e6f1" stroke-width="1"/>
<polygon points="249.50,145.30 145.58,205.30 145.58,325.30 249.50,385.30 353.42,325.30 353.42,205.30" fill="none" stroke="#e0e6f1" stroke-width="1"/>
<polygon points="249.50,115.30 119.60,190.30 119.60,340.30 249.50,415.30 379.40,340.30 379.40,190.30" fill="none" stroke="#e0e6f1" stroke-width="1"/>
<line x1="249.50" y1="265.30" x2="249.50" y2="115.30" stroke="#b7b8bc" stroke-width="1"/>
<line x1="249.50" y1="265.30" x2="119.60" y2="190.30" stroke="#b7b8bc" stroke-width="1"/>
<line x1="249.50" y1="265.30" x2="119.60" y2="340.30" stroke="#b7b8bc" stroke-width="1"/>
<line x1="249.50" y1="265.30" x2="249.50" y2="415.30" stroke="#b7b8bc" stroke-width="1"/>
<line x1="249.50" y1="265.30" x2="379.40" y2="340.30" stroke="#b7b8bc" stroke-width="1"/>
<line x1="249.50" y1="265.30" x2="379.40" y2="190.30" stroke="#b7b8bc" stroke-width="1"/>
<polygon points="249.50,168.38 225.14,251.24 162.90,315.30 249.50,403.46 374.41,337.42 343.03,211.30" fill="none" stroke="#5470c6" stroke-width="2" stroke-linejoin="bevel"/>
<circle cx="249.50" cy="168.38" r="3.6" fill="#5470c6"/>
<circle cx="225.14" cy="251.24" r="3.6" fill="#5470c6"/>
<circle cx="162.90" cy="315.30" r="3.6" fill="#5470c6"/>
<circle cx="249.50" cy="403.46" r="3.6" fill="#5470c6"/>
<circle cx="374.41" cy="337.42" r="3.6" fill="#5470c6"/>
<circle cx="343.03" cy="211.30" r="3.6" fill="#5470c6"/>
<polygon points="249.50,149.92 135.83,199.67 128.26,335.30 249.50,367.93 354.42,325.88 358.62,202.30" fill="none" stroke="#91cc75" stroke-width="2" stroke-linejoin="bevel"/>
<circle cx="249.50" cy="149.92" r="3.6" fill="#91cc75"/>
<circle cx="135.83" cy="199.67" r="3.6" fill="#91cc75"/>
<circle cx="128.26" cy="335.30" r="3.6" fill="#91cc75"/>
<circle cx="249.50" cy="367.93" r="3.6" fill="#91cc75"/>
<circle cx="354.42" cy="325.88" r="3.6" fill="#91cc75"/>
<circle cx="358.62" cy="202.30" r="3.6" fill="#91cc75"/>
<text x="249.5" y="96.6" text-anchor="middle" font-size="12" fill="#bbb">Sales</text>
<text x="106.6" y="185.8" text-anchor="end" font-size="12" fill="#bbb">Administration</text>
<text x="106.6" y="350.8" text-anchor="end" font-size="12" fill="#bbb">Information Technology</text>
<text x="249.5" y="438.5" text-anchor="middle" font-size="12" fill="#bbb">Customer Support</text>
<text x="392.4" y="350.8" text-anchor="start" font-size="12" fill="#bbb">Development</text>
<text x="392.4" y="185.8" text-anchor="start" font-size="12" fill="#bbb">Marketing</text>
</g>
<rect x="125.6" y="70.4" width="25" height="14" rx="3" fill="#5470c6"/>
<text x="155.8" y="80.6" font-size="12" fill="#333">Allocated Budget</text>
<rect x="256.2" y="70.4" width="25" height="14" rx="3" fill="#91cc75"/>
<text x="286.4" y="80.6" font-size="12" fill="#333">Actual Spending</text>
</svg>
</section>
</main>
</body>
</html>
